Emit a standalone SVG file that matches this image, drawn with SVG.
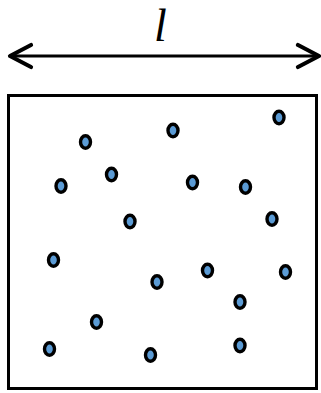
<svg xmlns="http://www.w3.org/2000/svg" width="321" height="393" viewBox="0 0 321 393">
<style>
.p{fill:#5b9bd5;stroke:#000;stroke-width:3.4}
.a{fill:none;stroke:#000;stroke-width:4.2;stroke-linecap:round;stroke-linejoin:round}
</style>
<rect width="321" height="393" fill="#fff"/>
<g id="label"><text x="160.5" y="41" font-family="Liberation Serif, serif" font-style="italic" font-size="46" text-anchor="middle">l</text></g>
<g id="connectors">
<line x1="11" y1="56" x2="317" y2="56" stroke="#000" stroke-width="3"/>
<polyline class="a" points="31,45 10,56 31,67"/>
<polyline class="a" points="298,45 319,56 298,67"/>
</g>
<g id="box"><rect x="8.5" y="95.5" width="308" height="293" fill="none" stroke="#000" stroke-width="3"/></g>
<g id="particles">
<ellipse class="p" cx="85.5" cy="142" rx="5" ry="6.2"/>
<ellipse class="p" cx="173" cy="130.5" rx="5" ry="6.2"/>
<ellipse class="p" cx="279" cy="117.5" rx="5" ry="6.2"/>
<ellipse class="p" cx="61" cy="186" rx="5" ry="6.2"/>
<ellipse class="p" cx="111.5" cy="174.5" rx="5" ry="6.2"/>
<ellipse class="p" cx="192.5" cy="182.5" rx="5" ry="6.2"/>
<ellipse class="p" cx="245.5" cy="187" rx="5" ry="6.2"/>
<ellipse class="p" cx="130" cy="221.5" rx="5" ry="6.2"/>
<ellipse class="p" cx="272" cy="219" rx="5" ry="6.2"/>
<ellipse class="p" cx="53.5" cy="260" rx="5" ry="6.2"/>
<ellipse class="p" cx="157" cy="282" rx="5" ry="6.2"/>
<ellipse class="p" cx="207.5" cy="270.5" rx="5" ry="6.2"/>
<ellipse class="p" cx="285.5" cy="272" rx="5" ry="6.2"/>
<ellipse class="p" cx="240" cy="302" rx="5" ry="6.2"/>
<ellipse class="p" cx="96.5" cy="322" rx="5" ry="6.2"/>
<ellipse class="p" cx="49.5" cy="349" rx="5" ry="6.2"/>
<ellipse class="p" cx="150.5" cy="355" rx="5" ry="6.2"/>
<ellipse class="p" cx="240" cy="345.5" rx="5" ry="6.2"/>
</g>
</svg>
